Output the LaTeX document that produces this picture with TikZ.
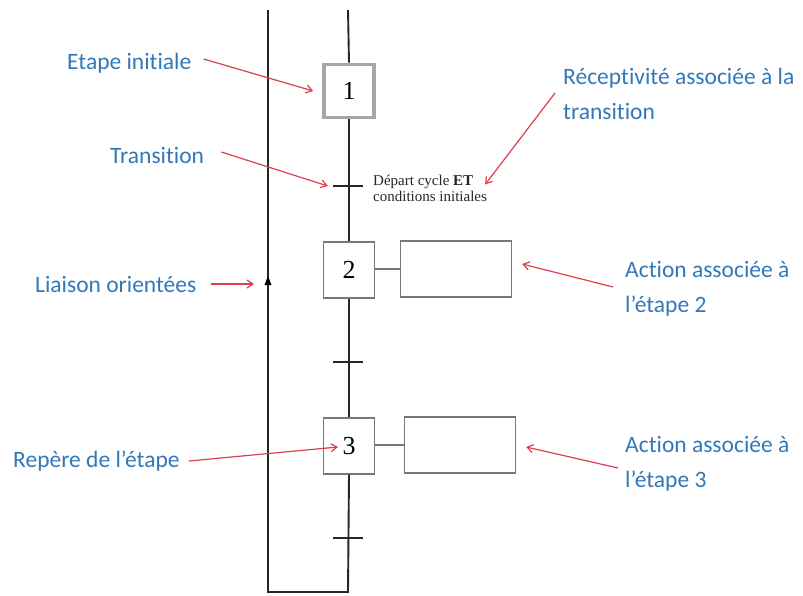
\documentclass[tikz,border=0pt]{standalone}
\usepackage{fontspec}
\setmainfont{Liberation Serif}
\newfontfamily\labelfont[Ligatures=NoCommon]{Carlito}
\usetikzlibrary{arrows.meta}
\definecolor{lblue}{RGB}{50,120,185}
\definecolor{lred}{RGB}{222,62,78}
\definecolor{lgray}{RGB}{120,120,120}
\begin{document}
\begin{tikzpicture}[x=1pt,y=-1pt,
  link/.style={draw=black!85,line width=1.9pt},
  stepbox/.style={draw=lgray,line width=1.3pt,fill=white,minimum width=51pt,minimum height=56pt,inner sep=0pt,font=\fontsize{26}{26}\selectfont},
  initbox/.style={stepbox,draw=gray!70,line width=3.6pt,minimum width=50pt,minimum height=53pt},
  actbox/.style={draw=lgray,line width=1.3pt,minimum width=111pt,minimum height=56pt,inner sep=0pt},
  trans/.style={minimum width=30pt,minimum height=0pt,inner sep=0pt},
  bar/.style={draw=black!85,line width=2.6pt},
  note/.style={text=lblue,font=\labelfont\fontsize{23.5}{35}\selectfont,align=left,inner sep=0pt,anchor=west},
  pointer/.style={draw=lred,line width=1.2pt,-{Straight Barb[length=6pt,width=8pt]}}]
\useasboundingbox (0,0) rectangle (803,595);

% chain of steps and transitions
\coordinate (top) at (348,10);
\coordinate (ltop) at (268,10);
\coordinate (bot) at (348,592);
\coordinate (lbot) at (268,592);
\coordinate (mid) at (268,281);

\node[initbox] (s1) at (349,91) {1};
\node[trans] (t1) at (348,186) {};
\node[stepbox] (s2) at (349,270) {2};
\node[trans] (t2) at (348,362) {};
\node[stepbox] (s3) at (349,446) {3};
\node[trans] (t3) at (348,538) {};

\node[actbox] (a2) at (456,269) {};
\node[actbox] (a3) at (460,445) {};

\draw[link] (top) -- (s1.north);
\draw[link] (s1.south) -- (s2.north);
\draw[link] (s2.south) -- (s3.north);
\draw[link] (s3.south) -- (bot) -- (lbot) -- (mid);
\draw[link] (mid) -- (ltop);
\fill[black] (mid) ++(0,-5) -- ++(-3.5,9) -- ++(7,0) -- cycle;

\draw[bar] (t1.west) -- (t1.east);
\draw[bar] (t2.west) -- (t2.east);
\draw[bar] (t3.west) -- (t3.east);

\draw[draw=lgray,line width=1.2pt] (s2.east |- a2.west) -- (a2.west);
\draw[draw=lgray,line width=1.2pt] (s3.east |- a3.west) -- (a3.west);

% receptivity text
\node[anchor=west,align=left,inner sep=0pt,font=\fontsize{15}{16}\selectfont,text=black!85] (rc) at (373,188)
  {Départ cycle \textbf{ET}\\conditions initiales};

% annotations
\node[note] (n1) at (67,63) {Etape initiale};
\node[note] (n2) at (110,155) {Transition};
\node[note] (n3) at (35,284) {Liaison orientées};
\node[note] (n4) at (13,461) {Repère de l’étape};
\node[note] (n5) at (563,94) {Réceptivité associée à la\\transition};
\node[note] (n6) at (625,289) {Action associée à\\l’étape 2};
\node[note] (n7) at (625,464) {Action associée à\\l’étape 3};

\draw[pointer] ([xshift=12pt,yshift=4pt]n1.east) -- ([xshift=-9pt]s1.west);
\draw[pointer] ([xshift=17pt,yshift=3pt]n2.east) -- ([xshift=-5pt]t1.west);
\draw[pointer] ([xshift=14pt]n3.east) -- ([xshift=-14pt]mid |- n3.east);
\draw[pointer] ([xshift=9pt]n4.east) -- ([xshift=-11pt,yshift=-1pt]s3.center);
\draw[pointer] (555,93) -- ([xshift=-2pt,yshift=-10pt]rc.north east);
\draw[pointer] ([xshift=-12pt,yshift=2pt]n6.west) -- ([xshift=10pt,yshift=5pt]a2.east);
\draw[pointer] ([xshift=-7pt,yshift=-4pt]n7.west) -- ([xshift=10pt,yshift=-2pt]a3.east);
\end{tikzpicture}
\end{document}
